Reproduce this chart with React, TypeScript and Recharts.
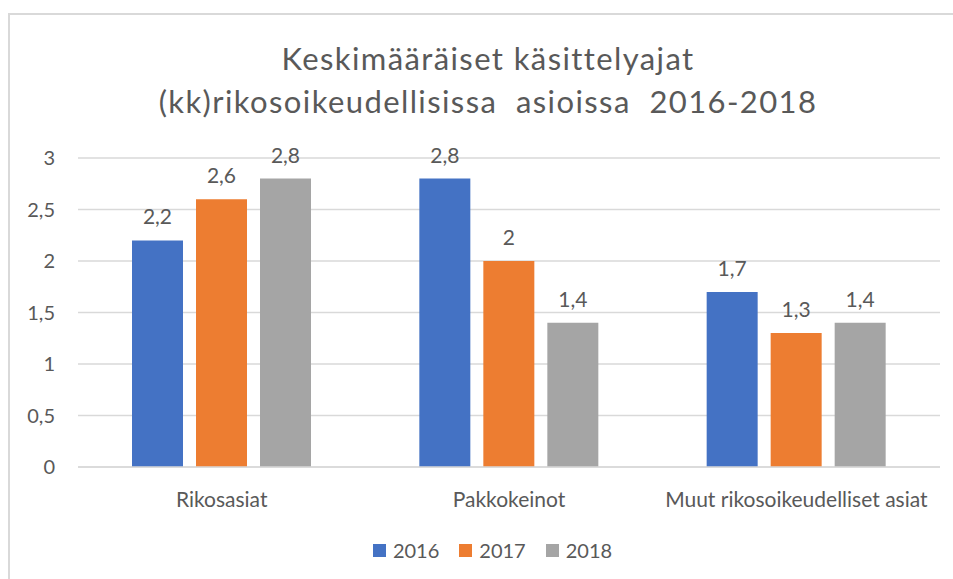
import React, { useEffect } from 'react';
import { BarChart, Bar, XAxis, YAxis, CartesianGrid, LabelList } from 'recharts';

const CATEGORIES = ['Rikosasiat', 'Pakkokeinot', 'Muut rikosoikeudelliset asiat'];
const SERIES = ['2016', '2017', '2018'];
const COLORS = ['#4472C4', '#ED7D31', '#A5A5A5'];
const VALUES_2016 = [2.2, 2.8, 1.7];
const VALUES_2017 = [2.6, 2.0, 1.3];
const VALUES_2018 = [2.8, 1.4, 1.4];
const Y_TICKS = [0, 0.5, 1, 1.5, 2, 2.5, 3];
const TITLE_LINES = ['Keskimääräiset käsittelyajat', '(kk)rikosoikeudellisissa  asioissa  2016-2018'];

const FONT = 'Lato, "Open Sans", sans-serif';
const TEXT = '#595959';

const fmt = (v: any) => String(v).replace('.', ',');

const data = CATEGORIES.map((c, i) => ({
  name: c,
  '2016': VALUES_2016[i],
  '2017': VALUES_2017[i],
  '2018': VALUES_2018[i],
}));

export default function App() {
  // no scrollbars, the frame should run off the right and bottom edges
  useEffect(() => {
    document.documentElement.style.overflow = 'hidden';
    document.body.style.overflow = 'hidden';
  }, []);

  return (
    <div style={{ position: 'fixed', left: 0, top: 0, width: 953, height: 579, overflow: 'hidden', fontFamily: FONT, background: '#fff' }}>
      {/* chart frame, only top and left edges are visible */}
      <div style={{ position: 'absolute', left: 8, top: 13, width: 1200, height: 1200, borderLeft: '2px solid #d9d9d9', borderTop: '2px solid #d9d9d9' }} />

      <div style={{ position: 'absolute', left: 8, top: 37, width: 960, textAlign: 'center', color: TEXT, fontSize: 31, letterSpacing: 1.4, lineHeight: '43px', whiteSpace: 'pre' }}>
        {TITLE_LINES.map(t => <div key={t}>{t}</div>)}
      </div>

      <div style={{ position: 'absolute', left: 8, top: 8 }}>
        <BarChart width={945} height={571} data={data} barGap={13} margin={{ top: 150, right: 13, bottom: 72, left: 0 }}>
          <CartesianGrid vertical={false} stroke="#d9d9d9" strokeWidth={1.5} />
          <XAxis
            dataKey="name"
            axisLine={{ stroke: '#d9d9d9', strokeWidth: 1.5 }}
            tickLine={false}
            tickSize={0}
            tickMargin={25}
            height={40}
            tick={{ fill: TEXT, fontSize: 21, fontFamily: FONT }}
            interval={0}
          />
          <YAxis
            domain={[0, 3]}
            ticks={Y_TICKS}
            tickFormatter={fmt}
            axisLine={false}
            tickLine={false}
            tickSize={0}
            tickMargin={23}
            width={70}
            tick={{ fill: TEXT, fontSize: 20, fontFamily: FONT }}
          />
          {SERIES.map((s, i) => (
            <Bar key={s} dataKey={s} fill={COLORS[i]} barSize={51} isAnimationActive={false}>
              <LabelList dataKey={s} position="top" offset={16} formatter={fmt} fill={TEXT} fontSize={21} fontFamily={FONT} />
            </Bar>
          ))}
        </BarChart>
      </div>

      <div style={{ position: 'absolute', left: 8, top: 538, width: 945, display: 'flex', justifyContent: 'center', paddingLeft: 24, boxSizing: 'border-box', color: TEXT, fontSize: 20, lineHeight: '24px' }}>
        {SERIES.map((s, i) => (
          <div key={s} style={{ display: 'flex', alignItems: 'center', marginRight: i < SERIES.length - 1 ? 20 : 0 }}>
            <span style={{ display: 'inline-block', width: 13, height: 13, background: COLORS[i], marginRight: 7 }} />
            <span>{s}</span>
          </div>
        ))}
      </div>
    </div>
  );
}
